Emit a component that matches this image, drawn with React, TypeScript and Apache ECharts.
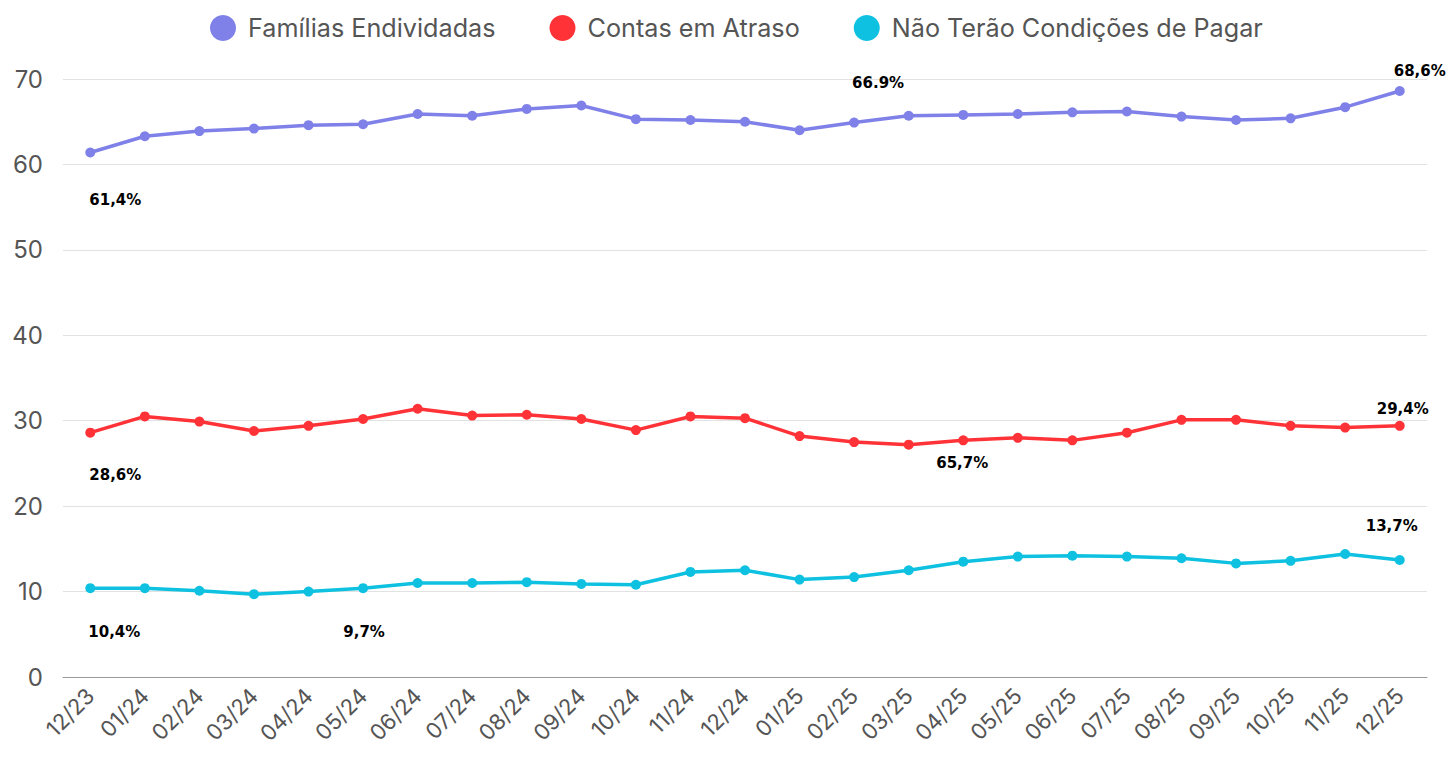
import React, { useEffect, useRef } from "react";
import * as echarts from "echarts";

const categories = [
  "12/23", "01/24", "02/24", "03/24", "04/24", "05/24", "06/24", "07/24", "08/24",
  "09/24", "10/24", "11/24", "12/24", "01/25", "02/25", "03/25", "04/25", "05/25",
  "06/25", "07/25", "08/25", "09/25", "10/25", "11/25", "12/25",
];

const familiasEndividadas = [
  61.4, 63.3, 63.9, 64.2, 64.6, 64.7, 65.9, 65.7, 66.5, 66.9, 65.3, 65.2, 65.0,
  64.0, 64.9, 65.7, 65.8, 65.9, 66.1, 66.2, 65.6, 65.2, 65.4, 66.7, 68.6,
];

const contasEmAtraso = [
  28.6, 30.5, 29.9, 28.8, 29.4, 30.2, 31.4, 30.6, 30.7, 30.2, 28.9, 30.5, 30.3,
  28.2, 27.5, 27.2, 27.7, 28.0, 27.7, 28.6, 30.1, 30.1, 29.4, 29.2, 29.4,
];

const naoTeraoCondicoes = [
  10.4, 10.4, 10.1, 9.7, 10.0, 10.4, 11.0, 11.0, 11.1, 10.9, 10.8, 12.3, 12.5,
  11.4, 11.7, 12.5, 13.5, 14.1, 14.2, 14.1, 13.9, 13.3, 13.6, 14.4, 13.7,
];

const seriesNames = ["Famílias Endividadas", "Contas em Atraso", "Não Terão Condições de Pagar"];

// annotation texts: series index, point index, text
const annotationSeries = [0, 0, 0, 1, 1, 1, 2, 2, 2];
const annotationPoints = [0, 14, 24, 0, 16, 24, 0, 5, 24];
const annotationTexts = ["61,4%", "66.9%", "68,6%", "28,6%", "65,7%", "29,4%", "10,4%", "9,7%", "13,7%"];

// label placement (pixels, relative to the point)
const annotationOffsets: [number, number][] = [
  [25, 48], [24, -40], [20, -20],
  [25, 42], [-1, 23], [3, -17],
  [24, 44], [1, 44], [-8, -34],
];

const colors = ["#7F80E8", "#FF3337", "#0EC1E0"];

export default function App() {
  const ref = useRef<HTMLDivElement>(null);

  useEffect(() => {
    document.body.style.margin = "0";
    if (!ref.current) return;
    const chart = echarts.init(ref.current, undefined, { renderer: "svg" });

    const rawData = [familiasEndividadas, contasEmAtraso, naoTeraoCondicoes];

    const series = rawData.map((arr, s) => ({
      name: seriesNames[s],
      type: "line",
      data: arr.map((v, i) => {
        const k = annotationSeries.findIndex((ss, j) => ss === s && annotationPoints[j] === i);
        if (k < 0) return v;
        return {
          value: v,
          label: {
            show: true,
            position: "inside",
            offset: annotationOffsets[k],
            formatter: annotationTexts[k],
            color: "#000",
            fontFamily: "DejaVu Sans",
            fontWeight: "bold",
            fontSize: 15,
          },
        };
      }),
      symbol: "circle",
      symbolSize: 10,
      lineStyle: { width: 3.5, color: colors[s] },
      itemStyle: { color: colors[s] },
      label: { show: false },
      z: 3 - s,
    }));

    chart.setOption({
      animation: false,
      color: colors,
      textStyle: { fontFamily: "Inter" },
      legend: {
        top: 10,
        left: 205,
        icon: "circle",
        itemWidth: 40,
        itemHeight: 26,
        itemGap: 54,
        textStyle: { fontSize: 25.2, color: "#555", fontFamily: "Inter" },
        data: seriesNames,
      },
      grid: { left: 63, right: 26, top: 79, bottom: 81, containLabel: false },
      xAxis: {
        type: "category",
        data: categories,
        boundaryGap: true,
        axisLine: { show: true, lineStyle: { color: "#999", width: 1 } },
        axisTick: { show: false },
        axisLabel: {
          rotate: 45,
          interval: 0,
          fontSize: 22,
          color: "#555",
          margin: 15,
          fontFamily: "Inter",
        },
      },
      yAxis: {
        type: "value",
        min: 0,
        max: 70,
        interval: 10,
        axisLine: { show: false },
        axisTick: { show: false },
        splitLine: { lineStyle: { color: "#e2e2e2", width: 1 } },
        axisLabel: { fontSize: 24, color: "#555", margin: 20, fontFamily: "Inter" },
      },
      series,
    });

    return () => chart.dispose();
  }, []);

  return <div ref={ref} style={{ width: 1453, height: 758 }} />;
}
